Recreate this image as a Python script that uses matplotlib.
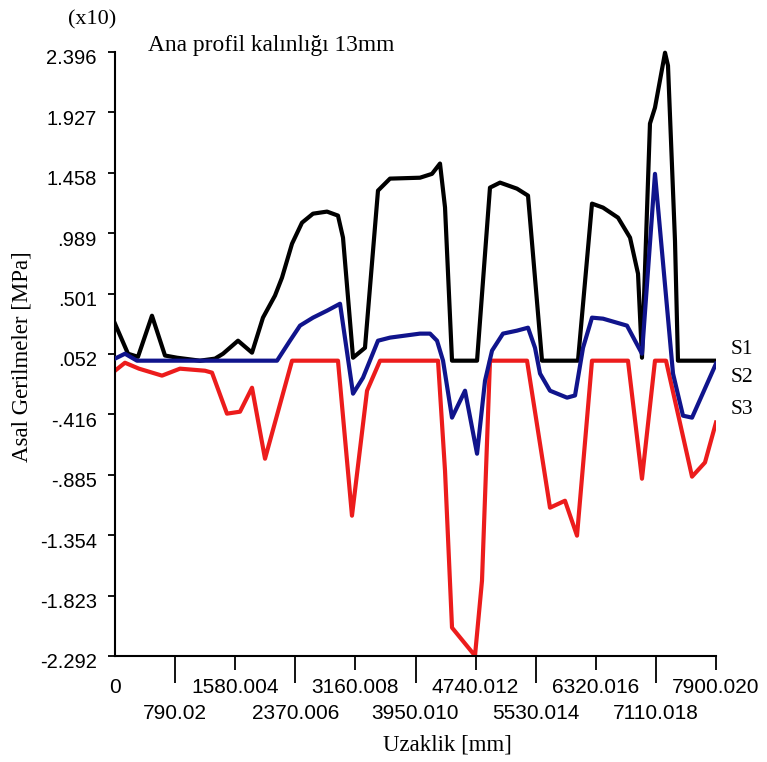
import numpy as np
import matplotlib
matplotlib.use("Agg")
import matplotlib.pyplot as plt
from matplotlib.transforms import ScaledTranslation

# ---- data (values in x10 MPa, distance in mm) ----
s1_x = [0, 171, 302, 486, 657, 815, 1117, 1315, 1420, 1617, 1801, 1945, 2103, 2195, 2327,
        2458, 2603, 2787, 2931, 2997, 3129, 3286, 3457, 3615, 4009, 4167, 4272, 4338, 4430,
        4759, 4929, 5061, 5284, 5429, 5613, 6086, 6270, 6415, 6612, 6770, 6875, 6927, 7032,
        7098, 7230, 7269, 7361, 7400, 7900]
s1_y = [0.287, 0.054, 0.03, 0.349, 0.04, 0.023, 0.0, 0.016, 0.054, 0.155, 0.062, 0.334, 0.505,
        0.644, 0.908, 1.071, 1.141, 1.157, 1.126, 0.955, 0.023, 0.10, 1.32, 1.413, 1.42, 1.45,
        1.53, 1.19, 0.0, 0.0, 1.343, 1.382, 1.335, 1.281, 0.0, 0.0, 1.219, 1.188, 1.11, 0.955,
        0.675, 0.023, 1.84, 1.964, 2.39, 2.29, 0.93, 0.0, 0.0]

s2_x = [0, 131, 289, 2130, 2300, 2432, 2603, 2787, 2958, 3129, 3260, 3457, 3615, 4009, 4141,
        4233, 4312, 4430, 4601, 4759, 4864, 4956, 5100, 5284, 5429, 5521, 5587, 5718, 5942,
        6047, 6152, 6270, 6415, 6730, 6927, 7098, 7335, 7466, 7585, 7900]
s2_y = [0.016, 0.054, 0.0, 0.0, 0.155, 0.272, 0.334, 0.388, 0.442, -0.256, -0.132, 0.155,
        0.179, 0.21, 0.21, 0.155, 0.0, -0.442, -0.233, -0.722, -0.155, 0.078, 0.21, 0.233,
        0.256, 0.1, -0.1, -0.233, -0.287, -0.27, 0.1, 0.334, 0.326, 0.272, 0.054, 1.45,
        -0.1, -0.427, -0.442, -0.023]

s3_x = [0, 131, 315, 618, 854, 1183, 1275, 1472, 1643, 1801, 1972, 2327, 2931, 3115, 3313,
        3484, 4246, 4338, 4430, 4732, 4824, 4929, 5416, 5718, 5915, 6073, 6270, 6743, 6927,
        7098, 7243, 7585, 7755, 7900]
s3_y = [-0.078, -0.016, -0.062, -0.116, -0.062, -0.078, -0.093, -0.411, -0.396, -0.21,
        -0.761, 0.0, 0.0, -1.203, -0.233, 0.0, 0.0, -0.854, -2.072, -2.29, -1.708, 0.0, 0.0,
        -1.141, -1.087, -1.358, 0.0, 0.0, -0.916, 0.0, 0.0, -0.9, -0.79, -0.48]

y_tick_labels = ["-2.292", "-1.823", "-1.354", "-.885", "-.416", ".052", ".501", ".989",
                 "1.458", "1.927", "2.396"]
x_major_labels = ["0", "1580.004", "3160.008", "4740.012", "6320.016", "7900.020"]
x_minor_labels = ["790.02", "2370.006", "3950.010", "5530.014", "7110.018"]
series_names = ["S1", "S2", "S3"]

y_min, y_max = -2.292, 2.396
x_max = 7900.02

serif = ["Liberation Serif", "DejaVu Serif"]
sans = ["Liberation Sans", "DejaVu Sans"]

fig = plt.figure(figsize=(7.67, 7.62), dpi=100)
ax = fig.add_axes([115 / 767, 1 - 656 / 762, 601 / 767, 611 / 762])

red = "#ec1c1c"
blue = "#10148c"
ax.plot(s3_x, s3_y, color=red, lw=3.0, zorder=2)
ax.plot(s1_x, s1_y, color="black", lw=3.0, zorder=3)
ax.plot(s2_x, s2_y, color=blue, lw=3.0, zorder=4)

ax.set_xlim(0, x_max)
ax.set_ylim(y_min, 2.45)

for side in ("top", "right"):
    ax.spines[side].set_visible(False)
ax.spines["left"].set_bounds(y_min, y_max)
for side in ("left", "bottom"):
    ax.spines[side].set_linewidth(1.5)

# y ticks
yt = np.linspace(y_min, y_max, 11)
ax.set_yticks(yt)
ax.set_yticklabels(y_tick_labels, family=sans, fontsize=14.5)
ax.tick_params(axis="y", direction="out", length=5, width=1.3, pad=8)
off = ScaledTranslation(0, -5 / 100, fig.dpi_scale_trans)
for lab in ax.get_yticklabels():
    lab.set_transform(lab.get_transform() + off)

# x ticks (two staggered rows)
step = x_max / 10
ax.set_xticks([step * i for i in range(0, 11, 2)])
ax.set_xticklabels(x_major_labels, family=sans, fontsize=15)
ax.set_xticks([step * i for i in range(1, 11, 2)], minor=True)
ax.set_xticklabels(x_minor_labels, minor=True, family=sans, fontsize=15)
ax.tick_params(axis="x", which="major", direction="out", length=10, width=1.3, pad=6)
ax.tick_params(axis="x", which="minor", direction="out", length=19.5, width=1.3, pad=15)
ax.xaxis.get_major_ticks()[0].tick1line.set_visible(False)

ax.set_xlabel("Uzaklik [mm]", family=serif, fontsize=16.5)
ax.xaxis.set_label_coords((447 - 115) / 601, -(735 - 656) / 611)
ax.set_ylabel("Asal Gerilmeler [MPa]", family=serif, fontsize=16.5, va="center")
ax.yaxis.set_label_coords((22 - 115) / 601, (656 - 357) / 611)

ax.text((148 - 115) / 601, (656 - 45) / 611, "Ana profil kalınlığı 13mm", transform=ax.transAxes,
        family=serif, fontsize=16.8, ha="left", va="center")
ax.text((68 - 115) / 601, (656 - 20) / 611, "(x10)", transform=ax.transAxes,
        family=serif, fontsize=16, ha="left", va="center")

label_y_px = [350, 378, 410]
for name, ypx in zip(series_names, label_y_px):
    ax.text((731 - 115) / 601, (656 - ypx) / 611, name, transform=ax.transAxes,
            family=serif, fontsize=15.5, ha="left", va="center", clip_on=False)

fig.savefig("out.png", dpi=100, facecolor="white")
